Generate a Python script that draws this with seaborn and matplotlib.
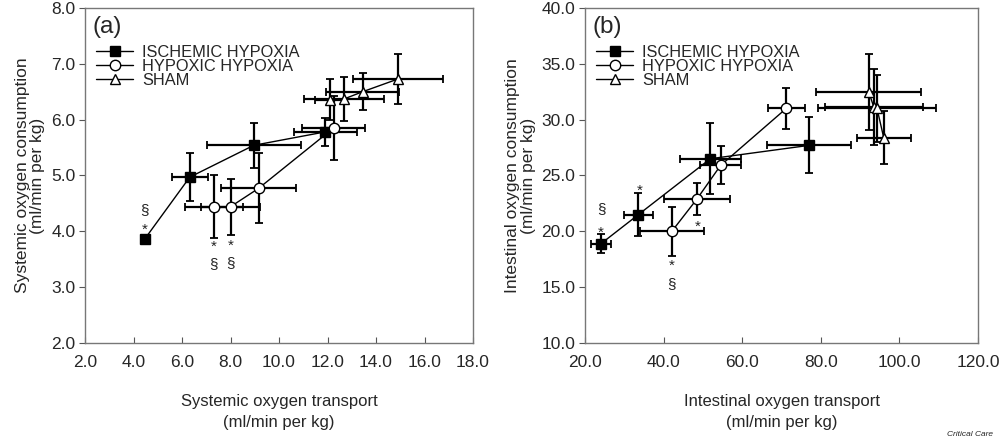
import numpy as np
import pandas as pd
import matplotlib
matplotlib.use('Agg')
import matplotlib.pyplot as plt
import seaborn as sns

# panel (a): systemic
a_isch_x = [4.46, 6.32, 8.96, 11.90]
a_isch_y = [3.86, 4.97, 5.54, 5.78]
a_isch_xerr = [0.10, 0.74, 1.94, 1.30]
a_isch_yerr = [0.08, 0.43, 0.40, 0.25]

a_hyp_x = [7.31, 8.00, 9.16, 12.25]
a_hyp_y = [4.44, 4.44, 4.77, 5.85]
a_hyp_xerr = [1.20, 1.20, 1.55, 1.30]
a_hyp_yerr = [0.56, 0.50, 0.63, 0.57]

a_sham_x = [12.10, 12.68, 13.45, 14.92]
a_sham_y = [6.36, 6.37, 6.50, 6.73]
a_sham_xerr = [0.60, 1.65, 1.50, 1.86]
a_sham_yerr = [0.37, 0.40, 0.33, 0.45]

# panel (b): intestinal
b_isch_x = [24.1, 33.6, 51.9, 77.1]
b_isch_y = [18.9, 21.5, 26.5, 27.7]
b_isch_xerr = [2.5, 3.8, 7.8, 10.7]
b_isch_yerr = [0.85, 1.9, 3.2, 2.5]

b_hyp_x = [42.1, 48.5, 54.5, 71.2]
b_hyp_y = [20.0, 22.9, 25.9, 31.0]
b_hyp_xerr = [8.2, 8.4, 5.2, 4.7]
b_hyp_yerr = [2.2, 1.4, 1.7, 1.85]

b_sham_x = [92.2, 93.5, 94.3, 96.0]
b_sham_y = [32.5, 31.1, 31.0, 28.4]
b_sham_xerr = [13.3, 12.5, 15.0, 6.9]
b_sham_yerr = [3.4, 3.4, 3.0, 2.35]

group_names = ['ISCHEMIC HYPOXIA', 'HYPOXIC HYPOXIA', 'SHAM']

# significance marks (x, y, symbol)
a_marks = [(4.46, 4.38, '§'), (4.46, 4.03, '*'), (7.31, 3.72, '*'), (7.31, 3.42, '§'),
           (8.00, 3.74, '*'), (8.00, 3.44, '§')]
b_marks = [(24.1, 22.0, '§'), (24.1, 19.9, '*'), (33.8, 23.6, '*'), (42.1, 16.9, '*'),
           (42.1, 15.3, '§'), (48.7, 20.4, '*')]

sns.set_style('white')
plt.rcParams['font.family'] = ['Liberation Sans', 'DejaVu Sans']

fig = plt.figure(figsize=(10, 4.42), dpi=100)
ax_a = fig.add_axes([0.085, 0.224, 0.388, 0.758])
ax_b = fig.add_axes([0.585, 0.224, 0.393, 0.758])

styles = [dict(marker='s', markerfacecolor='black', markersize=6.5),
          dict(marker='o', markerfacecolor='white', markersize=7.5),
          dict(marker='^', markerfacecolor='white', markersize=7.5)]


def draw_panel(ax, series, marks, tag, xlim, ylim, xticks, yticks, xlabel, ylabel):
    for name, (x, y, xe, ye), st in zip(group_names, series, styles):
        ax.errorbar(x, y, xerr=xe, yerr=ye, fmt='none', ecolor='black',
                    elinewidth=1.6, capsize=3, capthick=1.3, zorder=2)
        df = pd.DataFrame({'x': x, 'y': y})
        sns.lineplot(data=df, x='x', y='y', sort=False, estimator=None, ax=ax,
                     color='black', linewidth=1.0, markeredgecolor='black',
                     markeredgewidth=1.0, label=name, zorder=3, **st)
    for mx, my, s in marks:
        ax.text(mx, my, s, ha='center', va='center', fontsize=11, color='#222222')
    ax.set_xlim(*xlim)
    ax.set_ylim(*ylim)
    ax.set_xticks(xticks)
    ax.set_yticks(yticks)
    ax.set_xticklabels([f'{v:.1f}' for v in xticks], fontsize=12.5)
    ax.set_yticklabels([f'{v:.1f}' for v in yticks], fontsize=12.5)
    ax.tick_params(axis='x', direction='in', length=4, pad=9, color='#555555', bottom=True)
    ax.tick_params(axis='y', direction='out', length=4, pad=3, color='#555555', left=True)
    for sp in ax.spines.values():
        sp.set_color('#777777')
        sp.set_linewidth(1.0)
    ax.set_xlabel(xlabel, fontsize=12, labelpad=17, linespacing=1.45)
    ax.set_ylabel(ylabel, fontsize=12.5, labelpad=4, linespacing=1.05)
    ax.text(0.02, 0.975, tag, transform=ax.transAxes, ha='left', va='top', fontsize=17.5)
    ax.legend(loc='upper left', bbox_to_anchor=(0.0, 0.925), frameon=False,
              fontsize=11.8, handlelength=2.2, handletextpad=0.6,
              labelspacing=-0.05, borderaxespad=0.3)


draw_panel(ax_a,
           [(a_isch_x, a_isch_y, a_isch_xerr, a_isch_yerr),
            (a_hyp_x, a_hyp_y, a_hyp_xerr, a_hyp_yerr),
            (a_sham_x, a_sham_y, a_sham_xerr, a_sham_yerr)],
           a_marks, '(a)', (2, 18), (2, 8), np.arange(2, 18.1, 2), np.arange(2, 8.1, 1),
           'Systemic oxygen transport\n(ml/min per kg)',
           'Systemic oxygen consumption\n(ml/min per kg)')

draw_panel(ax_b,
           [(b_isch_x, b_isch_y, b_isch_xerr, b_isch_yerr),
            (b_hyp_x, b_hyp_y, b_hyp_xerr, b_hyp_yerr),
            (b_sham_x, b_sham_y, b_sham_xerr, b_sham_yerr)],
           b_marks, '(b)', (20, 120), (10, 40), np.arange(20, 120.1, 20), np.arange(10, 40.1, 5),
           'Intestinal oxygen transport\n(ml/min per kg)',
           'Intestinal oxygen consumption\n(ml/min per kg)')

fig.text(0.993, 0.01, 'Critical Care', ha='right', va='bottom', fontsize=6, style='italic')

fig.savefig('out.png', dpi=100)
